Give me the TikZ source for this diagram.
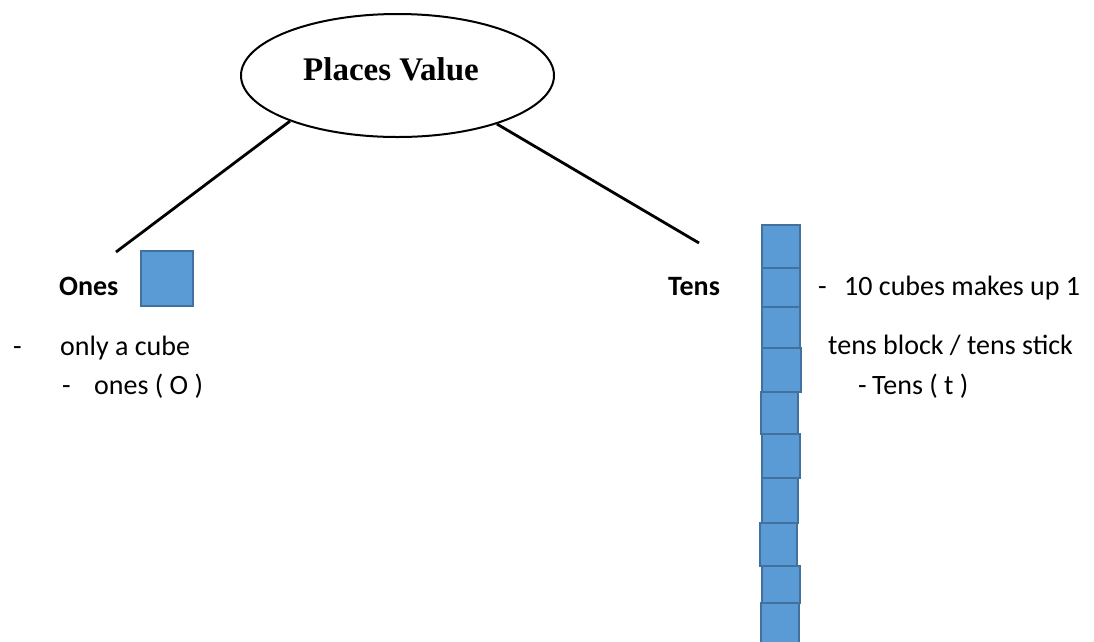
\documentclass[tikz,border=0pt]{standalone}
\usepackage{fontspec}
\setmainfont{Carlito}
\newfontfamily\titlefont{Liberation Serif}
\usetikzlibrary{calc,positioning,shapes.geometric}
\definecolor{cubefill}{HTML}{5B9BD5}
\definecolor{cubeedge}{HTML}{41719C}

\begin{document}
\begin{tikzpicture}[x=1pt,y=-1pt,
  txt/.style={anchor=base west,inner sep=0pt,font=\fontsize{28}{34}\selectfont},
  head/.style={txt,font=\fontsize{28}{34}\selectfont\bfseries},
  cube/.style={fill=cubefill,draw=cubeedge,line width=2pt},
  branch/.style={line width=2.8pt}]
  \fill[white] (0,0) rectangle (1094,641);
  \useasboundingbox (0,0) rectangle (1094,641);
  \node[ellipse,draw,line width=2pt,minimum width=313pt,minimum height=123pt] (pv) at (397.5,75.5) {};
  \node[anchor=base,inner sep=0pt,font=\titlefont\bfseries\fontsize{33}{39}\selectfont] (pvText) at (391,80) {Places Value};
  \coordinate (pOnes) at (116,252);
  \coordinate (pTens) at (699,243);
  \draw[branch] (pv.203) -- (pOnes);
  \draw[branch] (pv.334) -- (pTens);
  \node[cube,minimum width=52pt,minimum height=55pt,inner sep=0pt] (oneCube) at (167,278.5) {};
  \foreach \xa/\ya/\xb/\yb in {762/225/800/268,762/268/800/307,762/307/800/348,762/348/801/392,
    761/392/798/434,762/434/800/478,762/478/798/523,760/523/797/566,762/566/800/603,761/603/799/660}{
    \draw[cube] (\xa,\ya) rectangle (\xb,\yb);
  }
  \node[head] (ones) at (59,295) {Ones};
  \node[txt] (dashA) at (13,355) {-};
  \node[txt] (onlyCube) at (60,355) {only a cube};
  \node[txt] (dashB) at (62,394) {-};
  \node[txt] (onesO) at (94,394) {ones ( O )};
  \node[head] (tens) at (668,295) {Tens};
  \node[txt] (dashC) at (818,295) {-};
  \node[txt] (tenCubes) at (844,295) {10 cubes makes up 1};
  \node[txt] (tensBlock) at (828,354) {tens block / tens stick};
  \node[txt] (dashD) at (858,394) {-};
  \node[txt] (tensT) at (872,394) {Tens ( t )};
\end{tikzpicture}
\end{document}
